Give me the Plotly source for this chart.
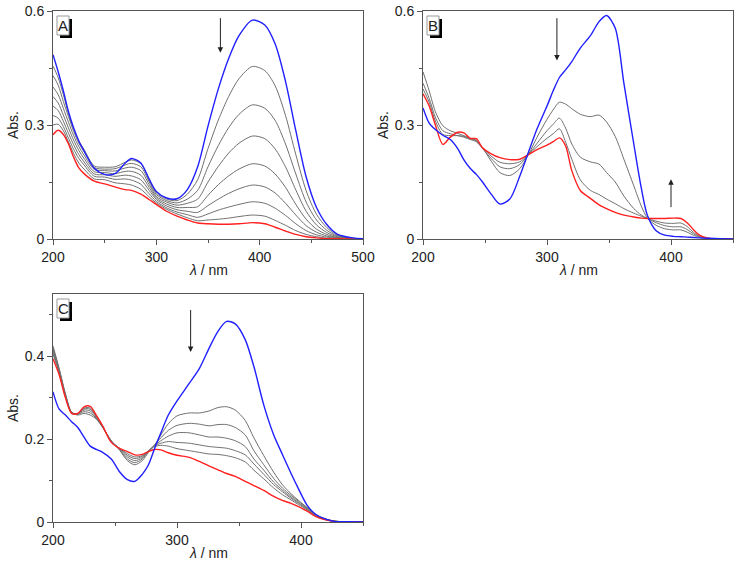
import plotly.graph_objects as go

# ---------------- Panel A data ----------------
wl_A = [200, 205, 210, 215, 220, 225, 230, 240, 250, 260, 270, 276, 285, 293, 300, 310, 320, 330,
        340, 350, 360, 370, 380, 393, 405, 415, 425, 435, 445, 455, 465, 475, 490, 500]
A_blue = [0.485, 0.440, 0.390, 0.335, 0.292, 0.258, 0.232, 0.186, 0.170, 0.172, 0.200, 0.212, 0.200, 0.158,
          0.125, 0.108, 0.106, 0.130, 0.190, 0.297, 0.395, 0.475, 0.535, 0.576, 0.563, 0.513, 0.415, 0.285,
          0.163, 0.083, 0.038, 0.013, 0.003, 0.001]
A_gray1 = [0.455, 0.425, 0.380, 0.330, 0.290, 0.258, 0.236, 0.192, 0.189, 0.190, 0.202, 0.208, 0.198, 0.157,
           0.121, 0.105, 0.101, 0.118, 0.156, 0.238, 0.313, 0.375, 0.422, 0.454, 0.443, 0.403, 0.325, 0.222,
           0.127, 0.065, 0.030, 0.010, 0.002, 0.001]
A_gray2 = [0.430, 0.405, 0.362, 0.322, 0.283, 0.252, 0.230, 0.188, 0.184, 0.185, 0.195, 0.199, 0.190, 0.151,
           0.117, 0.101, 0.095, 0.105, 0.128, 0.190, 0.246, 0.293, 0.328, 0.353, 0.344, 0.312, 0.250, 0.171,
           0.097, 0.050, 0.023, 0.008, 0.002, 0.0005]
A_gray3 = [0.400, 0.380, 0.344, 0.307, 0.272, 0.243, 0.221, 0.183, 0.180, 0.179, 0.187, 0.189, 0.180, 0.144,
           0.112, 0.097, 0.089, 0.094, 0.105, 0.150, 0.191, 0.226, 0.252, 0.271, 0.264, 0.237, 0.190, 0.129,
           0.073, 0.037, 0.017, 0.006, 0.001, 0.0]
A_gray4 = [0.375, 0.358, 0.326, 0.292, 0.260, 0.233, 0.212, 0.177, 0.175, 0.172, 0.178, 0.178, 0.168, 0.136,
           0.108, 0.092, 0.083, 0.083, 0.085, 0.115, 0.143, 0.166, 0.184, 0.198, 0.192, 0.171, 0.136, 0.091,
           0.052, 0.026, 0.012, 0.004, 0.001, 0.0]
A_gray5 = [0.350, 0.338, 0.310, 0.278, 0.248, 0.222, 0.203, 0.171, 0.169, 0.165, 0.168, 0.166, 0.156, 0.128,
           0.104, 0.087, 0.077, 0.073, 0.070, 0.088, 0.105, 0.120, 0.132, 0.142, 0.137, 0.121, 0.094, 0.063,
           0.035, 0.018, 0.008, 0.003, 0.001, 0.0]
A_gray6 = [0.325, 0.318, 0.296, 0.265, 0.236, 0.212, 0.195, 0.165, 0.163, 0.157, 0.158, 0.155, 0.144, 0.119,
           0.099, 0.082, 0.071, 0.064, 0.057, 0.066, 0.076, 0.084, 0.091, 0.098, 0.094, 0.081, 0.062, 0.040,
           0.022, 0.011, 0.005, 0.002, 0.0005, 0.0]
A_gray7 = [0.300, 0.302, 0.285, 0.255, 0.225, 0.200, 0.184, 0.158, 0.156, 0.148, 0.145, 0.142, 0.131, 0.111,
           0.095, 0.078, 0.066, 0.056, 0.048, 0.050, 0.052, 0.055, 0.059, 0.063, 0.060, 0.049, 0.036, 0.022,
           0.012, 0.006, 0.002, 0.001, 0.0, 0.0]
A_red = [0.274, 0.286, 0.275, 0.250, 0.215, 0.187, 0.172, 0.152, 0.145, 0.137, 0.130, 0.128, 0.118, 0.104,
         0.091, 0.073, 0.060, 0.050, 0.042, 0.040, 0.039, 0.039, 0.040, 0.043, 0.040, 0.031, 0.021, 0.012,
         0.006, 0.003, 0.001, 0.0005, 0.0, 0.0]

# ---------------- Panel B data ----------------
wl_B = [200, 205, 210, 216, 222, 228, 233, 238, 243, 248, 255, 262, 270, 278, 285, 292, 300, 305, 310, 315,
        320, 327, 335, 342, 348, 355, 362, 370, 376, 381, 388, 395, 402, 408, 413, 418, 423, 430, 440, 450]
B_blue = [0.345, 0.305, 0.288, 0.273, 0.262, 0.238, 0.208, 0.186, 0.170, 0.150, 0.118, 0.092, 0.105, 0.165,
          0.228, 0.290, 0.350, 0.390, 0.425, 0.445, 0.467, 0.503, 0.535, 0.572, 0.588, 0.555, 0.410, 0.250,
          0.135, 0.062, 0.022, 0.010, 0.007, 0.006, 0.005, 0.004, 0.003, 0.002, 0.001, 0.0]
B_gray1 = [0.440, 0.390, 0.335, 0.298, 0.285, 0.278, 0.272, 0.265, 0.258, 0.240, 0.205, 0.175, 0.167, 0.185,
           0.222, 0.268, 0.315, 0.340, 0.360, 0.355, 0.343, 0.328, 0.322, 0.326, 0.308, 0.270, 0.210, 0.140,
           0.087, 0.055, 0.036, 0.027, 0.024, 0.024, 0.018, 0.010, 0.004, 0.001, 0.0, 0.0]
B_gray2 = [0.410, 0.370, 0.320, 0.285, 0.277, 0.272, 0.268, 0.262, 0.256, 0.238, 0.212, 0.190, 0.185, 0.196,
           0.222, 0.252, 0.285, 0.302, 0.318, 0.292, 0.250, 0.215, 0.203, 0.197, 0.175, 0.150, 0.113, 0.080,
           0.063, 0.054, 0.043, 0.035, 0.032, 0.032, 0.025, 0.014, 0.006, 0.001, 0.0, 0.0]
B_gray3 = [0.395, 0.360, 0.310, 0.275, 0.272, 0.272, 0.270, 0.264, 0.260, 0.240, 0.218, 0.202, 0.198, 0.203,
           0.222, 0.243, 0.265, 0.277, 0.290, 0.255, 0.210, 0.155, 0.128, 0.117, 0.105, 0.093, 0.080, 0.068,
           0.060, 0.054, 0.047, 0.042, 0.041, 0.042, 0.033, 0.018, 0.007, 0.001, 0.0, 0.0]
B_red = [0.382, 0.350, 0.300, 0.249, 0.268, 0.281, 0.279, 0.265, 0.264, 0.240, 0.224, 0.214, 0.209, 0.210,
         0.222, 0.235, 0.247, 0.256, 0.266, 0.245, 0.180, 0.127, 0.107, 0.090, 0.080, 0.070, 0.063, 0.058,
         0.055, 0.054, 0.054, 0.054, 0.055, 0.054, 0.043, 0.025, 0.010, 0.002, 0.0, 0.0]

# ---------------- Panel C data ----------------
wl_C = [200, 205, 210, 215, 220, 225, 230, 235, 240, 247, 254, 260, 266, 272, 277, 282, 287, 293, 300, 310,
        318, 326, 333, 340, 347, 355, 362, 370, 378, 385, 392, 398, 405, 412, 420, 428, 437, 450]
C_blue = [0.314, 0.272, 0.258, 0.242, 0.228, 0.205, 0.183, 0.175, 0.168, 0.152, 0.120, 0.102, 0.098, 0.115,
          0.138, 0.178, 0.215, 0.258, 0.292, 0.335, 0.370, 0.420, 0.460, 0.484, 0.478, 0.440, 0.375, 0.282,
          0.210, 0.163, 0.117, 0.080, 0.040, 0.018, 0.007, 0.001, 0.0005, 0.0]
C_gray1 = [0.425, 0.370, 0.310, 0.265, 0.258, 0.262, 0.258, 0.248, 0.228, 0.196, 0.172, 0.148, 0.138, 0.148,
           0.168, 0.186, 0.210, 0.237, 0.256, 0.263, 0.263, 0.268, 0.276, 0.278, 0.270, 0.245, 0.203, 0.160,
           0.120, 0.090, 0.068, 0.052, 0.035, 0.018, 0.007, 0.002, 0.0005, 0.0]
C_gray2 = [0.420, 0.368, 0.308, 0.265, 0.260, 0.266, 0.263, 0.250, 0.229, 0.196, 0.174, 0.152, 0.143, 0.152,
           0.170, 0.186, 0.203, 0.221, 0.233, 0.238, 0.236, 0.232, 0.235, 0.235, 0.228, 0.210, 0.172, 0.138,
           0.105, 0.082, 0.064, 0.050, 0.034, 0.017, 0.007, 0.002, 0.0005, 0.0]
C_gray3 = [0.415, 0.365, 0.306, 0.264, 0.261, 0.270, 0.268, 0.252, 0.230, 0.195, 0.176, 0.157, 0.148, 0.155,
           0.171, 0.185, 0.196, 0.207, 0.215, 0.215, 0.210, 0.205, 0.205, 0.202, 0.196, 0.182, 0.152, 0.125,
           0.096, 0.077, 0.060, 0.047, 0.032, 0.016, 0.006, 0.002, 0.0, 0.0]
C_gray4 = [0.410, 0.362, 0.304, 0.263, 0.261, 0.273, 0.272, 0.254, 0.231, 0.194, 0.177, 0.161, 0.153, 0.158,
           0.172, 0.184, 0.190, 0.194, 0.192, 0.190, 0.186, 0.182, 0.180, 0.178, 0.172, 0.162, 0.140, 0.115,
           0.090, 0.073, 0.057, 0.045, 0.031, 0.015, 0.006, 0.001, 0.0, 0.0]
C_gray5 = [0.405, 0.360, 0.302, 0.263, 0.261, 0.275, 0.275, 0.255, 0.232, 0.193, 0.177, 0.165, 0.157, 0.160,
           0.172, 0.182, 0.185, 0.183, 0.177, 0.172, 0.168, 0.164, 0.163, 0.160, 0.155, 0.145, 0.125, 0.104,
           0.082, 0.066, 0.053, 0.042, 0.029, 0.014, 0.005, 0.001, 0.0, 0.0]
C_red = [0.394, 0.355, 0.300, 0.262, 0.262, 0.278, 0.279, 0.257, 0.232, 0.192, 0.177, 0.170, 0.162, 0.163,
         0.170, 0.175, 0.174, 0.167, 0.161, 0.156, 0.146, 0.135, 0.126, 0.117, 0.110, 0.098, 0.088, 0.076,
         0.062, 0.052, 0.045, 0.037, 0.026, 0.013, 0.005, 0.001, 0.0, 0.0]

panel_labels = ["A", "B", "C"]
axis_x_title = "<i>λ</i> / nm"
axis_y_title = "Abs."

FONT = "Arial, 'Liberation Sans', sans-serif"
GRAY = "#707070"
BLUE = "#2020ff"
RED = "#ff2020"

fig = go.Figure()

panels = [
    ("x", "y", wl_A, [A_gray1, A_gray2, A_gray3, A_gray4, A_gray5, A_gray6, A_gray7], A_red, A_blue),
    ("x2", "y2", wl_B, [B_gray1, B_gray2, B_gray3], B_red, B_blue),
    ("x3", "y3", wl_C, [C_gray1, C_gray2, C_gray3, C_gray4, C_gray5], C_red, C_blue),
]

for xa, ya, wl, grays, red, blue in panels:
    for g in grays:
        fig.add_trace(go.Scatter(x=wl, y=g, mode="lines", xaxis=xa, yaxis=ya,
                                 line=dict(color=GRAY, width=1, shape="spline", smoothing=0.8),
                                 showlegend=False, hoverinfo="skip"))
    fig.add_trace(go.Scatter(x=wl, y=red, mode="lines", xaxis=xa, yaxis=ya,
                             line=dict(color=RED, width=1.4, shape="spline", smoothing=0.8),
                             showlegend=False, hoverinfo="skip"))
    fig.add_trace(go.Scatter(x=wl, y=blue, mode="lines", xaxis=xa, yaxis=ya,
                             line=dict(color=BLUE, width=1.4, shape="spline", smoothing=0.8),
                             showlegend=False, hoverinfo="skip"))


def xax(domain, rng):
    return dict(domain=domain, range=rng, showline=True, mirror=True, linecolor="#555", linewidth=1,
                ticks="outside", ticklen=5, tickcolor="#555", tickwidth=1, dtick=100, tick0=200,
                showgrid=False, zeroline=False, tickfont=dict(family=FONT, size=14, color="#222"),
                minor=dict(ticks="outside", ticklen=3, tickcolor="#555", dtick=50, tick0=200),
                fixedrange=True)


def yax(domain, rng, dt, mdt, anchor):
    return dict(domain=domain, range=rng, anchor=anchor, showline=True, mirror=True, linecolor="#555",
                linewidth=1, ticks="outside", ticklen=5, tickcolor="#555", tickwidth=1, dtick=dt, tick0=0,
                showgrid=False, zeroline=False, tickfont=dict(family=FONT, size=14, color="#222"),
                minor=dict(ticks="outside", ticklen=3, tickcolor="#555", dtick=mdt, tick0=0),
                fixedrange=True)


W, H = 734, 564
dA_x = [53 / W, 363 / W]
dB_x = [423 / W, 733 / W]
dTop_y = [1 - 239 / H, 1 - 11 / H]
dBot_y = [1 - 522 / H, 1 - 294 / H]

fig.update_layout(
    width=W, height=H, margin=dict(l=0, r=0, t=0, b=0, autoexpand=False),
    paper_bgcolor="white", plot_bgcolor="white",
    font=dict(family=FONT, size=14, color="#222"),
    xaxis=dict(**xax(dA_x, [200, 500]), anchor="y"),
    yaxis=yax(dTop_y, [0, 0.6], 0.3, 0.15, "x"),
    xaxis2=dict(**xax(dB_x, [200, 450]), anchor="y2"),
    yaxis2=yax(dTop_y, [0, 0.6], 0.3, 0.15, "x2"),
    xaxis3=dict(**xax(dA_x, [200, 450]), anchor="y3"),
    yaxis3=yax(dBot_y, [0, 0.55], 0.2, 0.1, "x3"),
)

annotations = []
shapes = []
axis_pairs = [("x", "y"), ("x2", "y2"), ("x3", "y3")]
for (xa, ya), lab in zip(axis_pairs, panel_labels):
    xd, yd = xa + " domain", ya + " domain"
    annotations.append(dict(text=axis_x_title, xref=xd, yref=yd, x=0.5, y=0, xanchor="center",
                            yanchor="middle", yshift=-31, showarrow=False,
                            font=dict(family=FONT, size=14, color="#222")))
    annotations.append(dict(text=axis_y_title, xref=xd, yref=yd, x=0, y=0.5, xanchor="center",
                            yanchor="middle", xshift=-40, textangle=-90, showarrow=False,
                            font=dict(family=FONT, size=14, color="#222")))
    pw, ph = 310.0, 228.0
    bx0, bx1 = 4 / pw, 16 / pw
    by1, by0 = 1 - 5 / ph, 1 - 24 / ph
    sh = 3
    shapes.append(dict(type="rect", xref=xd, yref=yd, x0=bx0 + sh / pw, x1=bx1 + sh / pw,
                       y0=by0 - sh / ph, y1=by1 - sh / ph, fillcolor="black", line=dict(width=0),
                       layer="above"))
    shapes.append(dict(type="rect", xref=xd, yref=yd, x0=bx0, x1=bx1, y0=by0, y1=by1,
                       fillcolor="white", line=dict(color="#999", width=1), layer="above"))
    annotations.append(dict(text=lab, xref=xd, yref=yd, x=(bx0 + bx1) / 2, y=(by0 + by1) / 2,
                            xanchor="center", yanchor="middle", showarrow=False,
                            font=dict(family=FONT, size=15, color="#222")))

arrows = [
    ("x", "y", 362, 0.585, 0.49),
    ("x2", "y2", 308, 0.585, 0.47),
    ("x2", "y2", 400, 0.08, 0.157),
    ("x3", "y3", 311, 0.515, 0.41),
]
for xa, ya, xv, ytail, yhead in arrows:
    annotations.append(dict(x=xv, y=yhead, ax=xv, ay=ytail, xref=xa, yref=ya, axref=xa, ayref=ya,
                            text="", showarrow=True, arrowhead=2, arrowsize=1.1, arrowwidth=1,
                            arrowcolor="#222"))

fig.update_layout(annotations=annotations, shapes=shapes)

fig.write_html("out.html", config={"displayModeBar": False, "staticPlot": True},
               post_script="document.body.style.margin='0px';document.body.style.padding='0px';"
                           "document.documentElement.style.overflow='hidden';")
